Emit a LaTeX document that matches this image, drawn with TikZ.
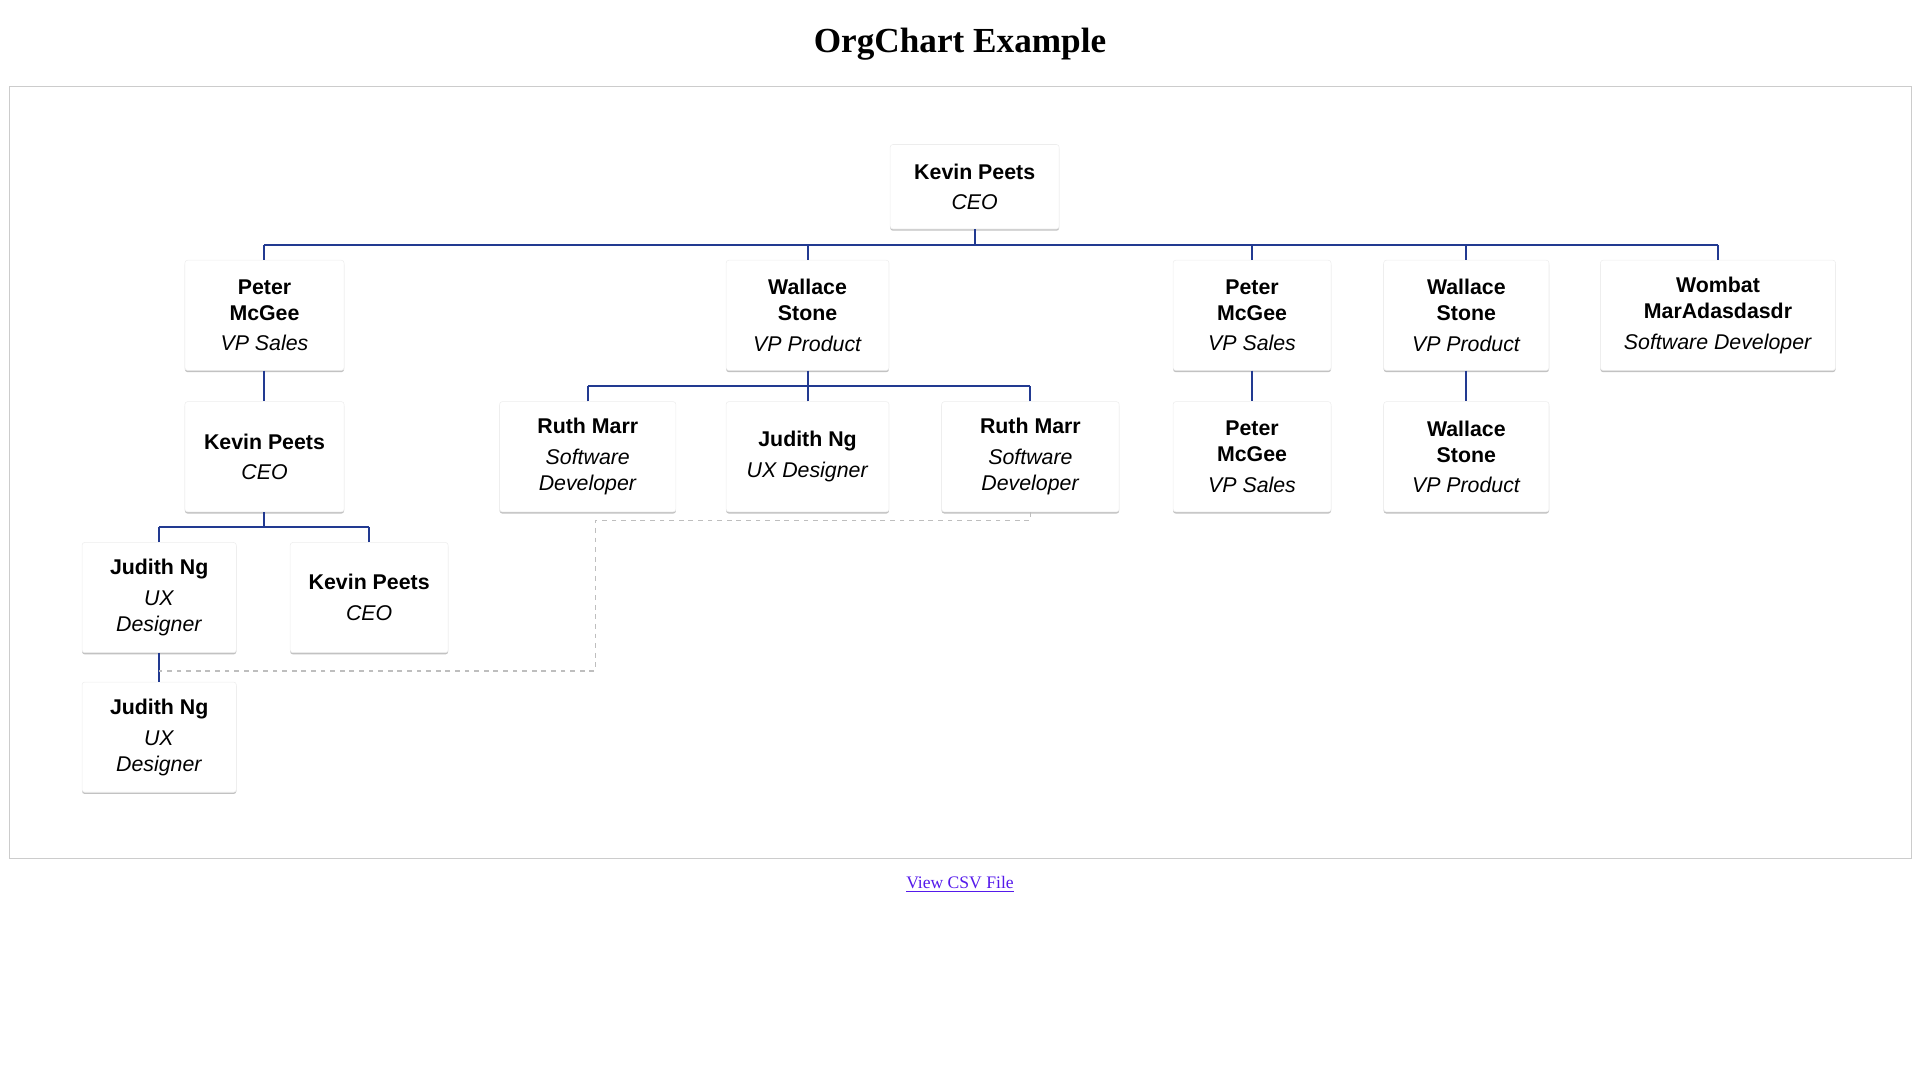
\documentclass[tikz,border=0pt]{standalone}
\usepackage{fontspec}
\setmainfont{Liberation Serif}
\newfontfamily\cardfont{Liberation Sans}
\usetikzlibrary{shadows}
\definecolor{connblue}{RGB}{34,58,145}
\definecolor{framegray}{RGB}{204,204,204}
\definecolor{dashgray}{RGB}{190,190,190}
\definecolor{linkcol}{RGB}{85,26,235}
\newcommand\pxl[1]{#1*0.9184pt}
\tikzset{
  card/.style 2 args={draw=black!7, fill=white, rounded corners=2pt, inner sep=0pt,
    minimum width=\pxl{#1}, minimum height=\pxl{#2}, align=center,
    font=\cardfont\fontsize{16}{19.5}\selectfont,
    drop shadow={shadow xshift=0pt, shadow yshift=-1.3pt, fill=black, opacity=0.24}},
  conn/.style={draw=connblue, line width=1.5pt},
  conn2/.style={draw=connblue, line width=1.1pt},
  dashlink/.style={draw=dashgray, line width=0.8pt, dash pattern=on 3.6pt off 3.6pt},
}
\newcommand\nm[1]{\textbf{#1}}
\newcommand\ttl[1]{\textit{#1}}
\begin{document}
\begin{tikzpicture}[x=0.9184pt, y=-0.9184pt]
\useasboundingbox (0,0) rectangle (1568,882);
% title
\node[font=\bfseries\fontsize{26.4}{30}\selectfont] (title) at (784,36) {OrgChart Example};
% frame
\draw[framegray, line width=0.8pt] (8,71) rectangle (1561,701);
% link
\node[font=\fontsize{13.2}{15}\selectfont, text=linkcol] (link) at (784,722)
  {\underline{View CSV File}};

% level 1
\node[card={138}{69}] (root) at (796,152.5) {\nm{Kevin Peets}\\[3.5pt]\ttl{CEO}};
% level 2
\node[card={130}{90}] (n2a) at (216,257.5) {\nm{Peter}\\\nm{McGee}\\[3.5pt]\ttl{VP Sales}};
\node[card={133}{90}] (n2b) at (659.5,257.5) {\nm{Wallace}\\\nm{Stone}\\[3.5pt]\ttl{VP Product}};
\node[card={129}{90}] (n2c) at (1022.5,257.5) {\nm{Peter}\\\nm{McGee}\\[3.5pt]\ttl{VP Sales}};
\node[card={135}{90}] (n2d) at (1197.5,257.5) {\nm{Wallace}\\\nm{Stone}\\[3.5pt]\ttl{VP Product}};
\node[card={192}{90}] (n2e) at (1403,257.5) {\nm{Wombat}\\\nm{MarAdasdasdr}\\[3.5pt]\ttl{Software Developer}};
% level 3
\node[card={130}{90}] (n3a) at (216,373) {\nm{Kevin Peets}\\[3.5pt]\ttl{CEO}};
\node[card={144}{90}] (n3b) at (480,373) {\nm{Ruth Marr}\\[3.5pt]\ttl{Software}\\\ttl{Developer}};
\node[card={133}{90}] (n3c) at (659.5,373) {\nm{Judith Ng}\\[3.5pt]\ttl{UX Designer}};
\node[card={145}{90}] (n3d) at (841.5,373) {\nm{Ruth Marr}\\[3.5pt]\ttl{Software}\\\ttl{Developer}};
\node[card={129}{90}] (n3e) at (1022.5,373) {\nm{Peter}\\\nm{McGee}\\[3.5pt]\ttl{VP Sales}};
\node[card={135}{90}] (n3f) at (1197.5,373) {\nm{Wallace}\\\nm{Stone}\\[3.5pt]\ttl{VP Product}};
% level 4
\node[card={126}{90}] (n4a) at (130,488) {\nm{Judith Ng}\\[3.5pt]\ttl{UX}\\\ttl{Designer}};
\node[card={129}{90}] (n4b) at (301.5,488) {\nm{Kevin Peets}\\[3.5pt]\ttl{CEO}};
% level 5
\node[card={126}{90}] (n5a) at (130,602) {\nm{Judith Ng}\\[3.5pt]\ttl{UX}\\\ttl{Designer}};

% connectors
\coordinate (b1) at (0,200);
\coordinate (b2) at (0,315);
\coordinate (b3) at (0,430);
\draw[conn] (root.south) -- (root.south |- b1);
\draw[conn] (n2a.north |- b1) -- (n2e.north |- b1);
\foreach \c in {n2a,n2b,n2c,n2d,n2e}{\draw[conn] (\c.north) -- (\c.north |- b1);}
\draw[conn] (n2a.south) -- (n3a.north);
\draw[conn] (n2b.south) -- (n2b.south |- b2);
\draw[conn] (n3b.north |- b2) -- (n3d.north |- b2);
\foreach \c in {n3b,n3c,n3d}{\draw[conn] (\c.north) -- (\c.north |- b2);}
\draw[conn] (n2c.south) -- (n3e.north);
\draw[conn] (n2d.south) -- (n3f.north);
\draw[conn] (n3a.south) -- (n3a.south |- b3);
\draw[conn] (n4a.north |- b3) -- (n4b.north |- b3);
\foreach \c in {n4a,n4b}{\draw[conn] (\c.north) -- (\c.north |- b3);}
\draw[conn2] (n4a.south) -- (n5a.north);
% dashed link
\coordinate (d1) at (0,425);
\coordinate (d2) at (486,0);
\coordinate (d3) at (0,548);
\coordinate (dend) at (n5a.north |- d3);
\draw[dashlink] (n3d.south) -- (n3d.south |- d1) -| (d2 |- d3) -- (dend);
\end{tikzpicture}
\end{document}
